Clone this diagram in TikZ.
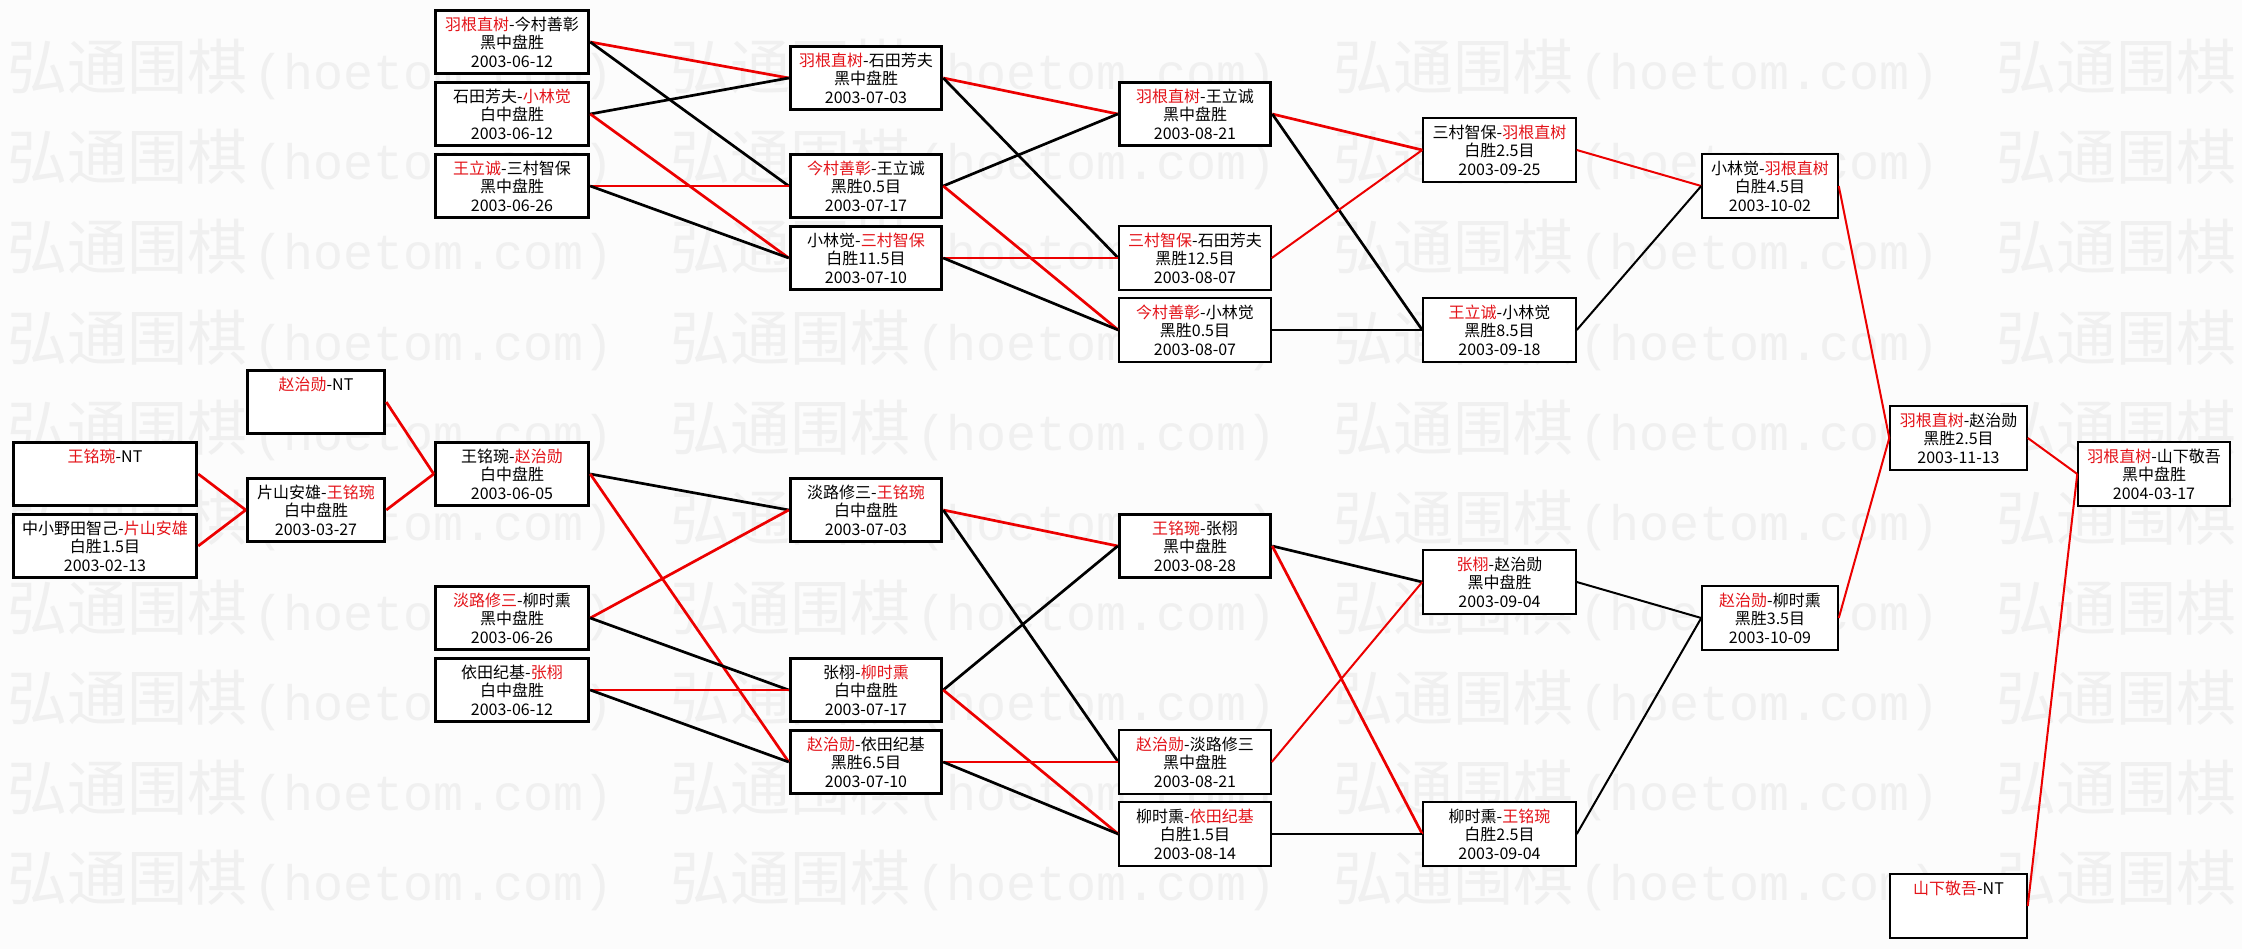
\documentclass[tikz,border=0pt]{standalone}
\usepackage{fontspec}
\setmainfont{Noto Sans CJK SC}
\newfontfamily\wmlatin{Liberation Mono}
\definecolor{mred}{RGB}{236,0,0}
\definecolor{tred}{RGB}{228,20,26}
\definecolor{wmc}{RGB}{240,240,240}
\definecolor{bgc}{RGB}{252,252,252}
\newcommand{\winner}[1]{\textcolor{tred}{#1}}
\newcommand{\blank}{\\\phantom{黑}\\\phantom{2003}}
\newcommand{\wmtext}{弘通围棋\kern6pt{\wmlatin\fontsize{50}{50}\selectfont(hoetom.com)}}
\tikzset{
  nb/.style={rectangle, draw=black, fill=white, align=center, inner sep=0pt,
    minimum height=63.5pt, font=\fontsize{16}{18.5}\selectfont},
  tk/.style={nb, line width=3pt},
  tn/.style={nb, line width=2pt},
  colA/.style={minimum width=183.5pt},
  colB/.style={minimum width=137.5pt},
  colC/.style={minimum width=153.5pt},
  colD/.style={minimum width=151.5pt},
  colE/.style={minimum width=151.5pt},
  colF/.style={minimum width=152.5pt},
  colG/.style={minimum width=135.5pt},
  colH/.style={minimum width=136.5pt},
  colI/.style={minimum width=151.5pt},
  wmark/.style={anchor=base west, inner sep=0pt, text=wmc, font=\fontsize{60}{60}\selectfont},
  rk/.style={draw=mred, line width=2.7pt},
  rn/.style={draw=mred, line width=2pt},
  bk/.style={draw=black, line width=2.7pt},
  bn/.style={draw=black, line width=2pt}
}
\begin{document}
\begin{tikzpicture}[x=1pt,y=-1pt]
\useasboundingbox (0,0) rectangle (2242,949);
\fill[bgc] (0,0) rectangle (2242,949);
% watermark
\begin{scope}
\clip (0,0) rectangle (2242,949);
\foreach \r in {0,...,9}{
  \foreach \c in {0,...,3}{
    \node[wmark] (wm-\r-\c) at ({7+663*\c},{90+90*\r}) {\wmtext};
  }
}
\end{scope}
% ---------- boxes: upper bracket ----------
\node[tk,colC] (C1) at (512,42)  {\winner{羽根直树}-今村善彰\\黑中盘胜\\2003-06-12};
\node[tk,colC] (C2) at (512,114) {石田芳夫-\winner{小林觉}\\白中盘胜\\2003-06-12};
\node[tk,colC] (C3) at (512,186) {\winner{王立诚}-三村智保\\黑中盘胜\\2003-06-26};
\node[tk,colD] (D1) at (866,78)  {\winner{羽根直树}-石田芳夫\\黑中盘胜\\2003-07-03};
\node[tk,colD] (D2) at (866,186) {\winner{今村善彰}-王立诚\\黑胜0.5目\\2003-07-17};
\node[tk,colD] (D3) at (866,258) {小林觉-\winner{三村智保}\\白胜11.5目\\2003-07-10};
\node[tk,colE] (E1) at (1195,114) {\winner{羽根直树}-王立诚\\黑中盘胜\\2003-08-21};
\node[tn,colE] (E2) at (1195,258) {\winner{三村智保}-石田芳夫\\黑胜12.5目\\2003-08-07};
\node[tn,colE] (E3) at (1195,330) {\winner{今村善彰}-小林觉\\黑胜0.5目\\2003-08-07};
\node[tn,colF] (F1) at (1499.5,150) {三村智保-\winner{羽根直树}\\白胜2.5目\\2003-09-25};
\node[tn,colF] (F2) at (1499.5,330) {\winner{王立诚}-小林觉\\黑胜8.5目\\2003-09-18};
\node[tn,colG] (G1) at (1770,186) {小林觉-\winner{羽根直树}\\白胜4.5目\\2003-10-02};
\node[tn,colH] (H1) at (1958.5,438) {\winner{羽根直树}-赵治勋\\黑胜2.5目\\2003-11-13};
\node[tn,colI] (I1) at (2154,474) {\winner{羽根直树}-山下敬吾\\黑中盘胜\\2004-03-17};
\node[tn,colH] (J)  at (1958.5,906) {\winner{山下敬吾}-NT\blank};
% ---------- boxes: lower bracket ----------
\node[tk,colA] (A1) at (105,474) {\winner{王铭琬}-NT\blank};
\node[tk,colA] (A2) at (105,546) {中小野田智己-\winner{片山安雄}\\白胜1.5目\\2003-02-13};
\node[tk,colB] (B1) at (316,402) {\winner{赵治勋}-NT\blank};
\node[tk,colB] (B2) at (316,510) {片山安雄-\winner{王铭琬}\\白中盘胜\\2003-03-27};
\node[tk,colC] (C4) at (512,474) {王铭琬-\winner{赵治勋}\\白中盘胜\\2003-06-05};
\node[tk,colC] (C5) at (512,618) {\winner{淡路修三}-柳时熏\\黑中盘胜\\2003-06-26};
\node[tk,colC] (C6) at (512,690) {依田纪基-\winner{张栩}\\白中盘胜\\2003-06-12};
\node[tk,colD] (D4) at (866,510) {淡路修三-\winner{王铭琬}\\白中盘胜\\2003-07-03};
\node[tk,colD] (D5) at (866,690) {张栩-\winner{柳时熏}\\白中盘胜\\2003-07-17};
\node[tk,colD] (D6) at (866,762) {\winner{赵治勋}-依田纪基\\黑胜6.5目\\2003-07-10};
\node[tk,colE] (E4) at (1195,546) {\winner{王铭琬}-张栩\\黑中盘胜\\2003-08-28};
\node[tn,colE] (E5) at (1195,762) {\winner{赵治勋}-淡路修三\\黑中盘胜\\2003-08-21};
\node[tn,colE] (E6) at (1195,834) {柳时熏-\winner{依田纪基}\\白胜1.5目\\2003-08-14};
\node[tn,colF] (F3) at (1499.5,582) {\winner{张栩}-赵治勋\\黑中盘胜\\2003-09-04};
\node[tn,colF] (F4) at (1499.5,834) {柳时熏-\winner{王铭琬}\\白胜2.5目\\2003-09-04};
\node[tn,colG] (G2) at (1770,618) {\winner{赵治勋}-柳时熏\\黑胜3.5目\\2003-10-09};
% ---------- connectors: upper ----------
\draw[rk] (C1.east) -- (D1.west);
\draw[bk] (C1.east) -- (D2.west);
\draw[bk] (C2.east) -- (D1.west);
\draw[rk] (C2.east) -- (D3.west);
\draw[rk] (C3.east) -- (D2.west);
\draw[bk] (C3.east) -- (D3.west);
\draw[rk] (D1.east) -- (E1.west);
\draw[bk] (D1.east) -- (E2.west);
\draw[bk] (D2.east) -- (E1.west);
\draw[rk] (D2.east) -- (E3.west);
\draw[rk] (D3.east) -- (E2.west);
\draw[bk] (D3.east) -- (E3.west);
\draw[rk] (E1.east) -- (F1.west);
\draw[bk] (E1.east) -- (F2.west);
\draw[rn] (E2.east) -- (F1.west);
\draw[bn] (E3.east) -- (F2.west);
\draw[rn] (F1.east) -- (G1.west);
\draw[bn] (F2.east) -- (G1.west);
\draw[rn] (G1.east) -- (H1.west);
\draw[rn] (G2.east) -- (H1.west);
\draw[rn] (H1.east) -- (I1.west);
\draw[rn] (J.east) -- (I1.west);
% ---------- connectors: lower ----------
\draw[rk] (A1.east) -- (B2.west);
\draw[rk] (A2.east) -- (B2.west);
\draw[rk] (B1.east) -- (C4.west);
\draw[rk] (B2.east) -- (C4.west);
\draw[bk] (C4.east) -- (D4.west);
\draw[rk] (C4.east) -- (D6.west);
\draw[rk] (C5.east) -- (D4.west);
\draw[bk] (C5.east) -- (D5.west);
\draw[rk] (C6.east) -- (D5.west);
\draw[bk] (C6.east) -- (D6.west);
\draw[rk] (D4.east) -- (E4.west);
\draw[bk] (D4.east) -- (E5.west);
\draw[bk] (D5.east) -- (E4.west);
\draw[rk] (D5.east) -- (E6.west);
\draw[rk] (D6.east) -- (E5.west);
\draw[bk] (D6.east) -- (E6.west);
\draw[bk] (E4.east) -- (F3.west);
\draw[rk] (E4.east) -- (F4.west);
\draw[rn] (E5.east) -- (F3.west);
\draw[bn] (E6.east) -- (F4.west);
\draw[bn] (F3.east) -- (G2.west);
\draw[bn] (F4.east) -- (G2.west);
\end{tikzpicture}
\end{document}
